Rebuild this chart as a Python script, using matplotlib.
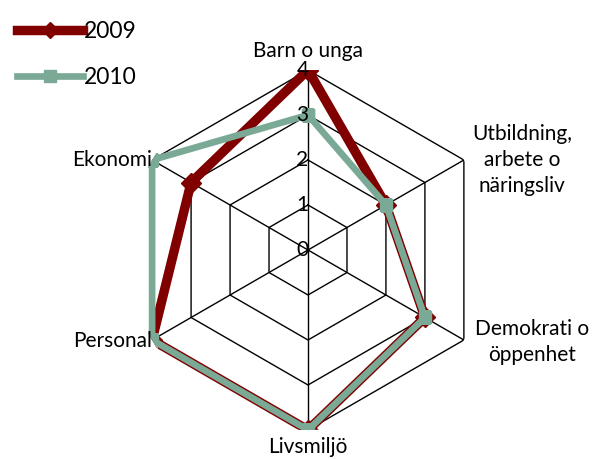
import numpy as np
import matplotlib.pyplot as plt
from matplotlib.lines import Line2D

plt.rcParams['font.family'] = ['Lato', 'DejaVu Sans']

categories = ['Barn o unga', 'Utbildning,\narbete o\nnäringsliv', 'Demokrati o\nöppenhet',
              'Livsmiljö', 'Personal', 'Ekonomi']
v2009 = [4, 2, 3, 4, 4, 3]
v2010 = [3, 2, 3, 4, 4, 4]
rings = [1, 2, 3, 4]
tick_labels = ['0', '1', '2', '3', '4']

red = '#800000'
green = '#7aa996'

W, H = 597, 459
fig = plt.figure(figsize=(W / 100, H / 100), dpi=100)
cx, cy, R = 308, 250, 180
ax = fig.add_axes([(cx - R) / W, (H - cy - R) / H, 2 * R / W, 2 * R / H], projection='polar')
ax.set_theta_offset(np.pi / 2)
ax.set_theta_direction(-1)
ax.set_ylim(0, 4)
ax.axis('off')

n = len(categories)
ang = np.linspace(0, 2 * np.pi, n, endpoint=False)
ang_c = np.append(ang, ang[0])

# hexagon grid
for r in rings:
    ax.plot(ang_c, [r] * (n + 1), color='black', lw=1.0, zorder=1)
for a in ang:
    ax.plot([a, a], [0, 4], color='black', lw=1.0, zorder=1)

# series
ax.plot(ang_c, v2009 + v2009[:1], color=red, lw=6.8, marker='D', ms=10,
        solid_joinstyle='miter', zorder=3)
ax.plot(ang_c, v2010 + v2010[:1], color=green, lw=4.8, marker='s', ms=9,
        solid_joinstyle='miter', zorder=4)

# tick labels along the top spoke
for i, t in enumerate(tick_labels):
    ax.annotate(t, xy=(0, i), xytext=(-4, 0), textcoords='offset points',
                ha='center', va='center', fontsize=15, zorder=5)

# category labels
label_pos = [(308, 51, 'center'), (522, 160, 'center'), (532, 342, 'center'),
             (308, 447, 'center'), (152, 341, 'right'), (152, 160, 'right')]
for lab, (x, y, ha) in zip(categories, label_pos):
    fig.text(x / W, 1 - y / H, lab, ha=ha, va='center', fontsize=15,
             linespacing=1.38)

handles = [Line2D([], [], color=red, lw=6.8, marker='D', ms=8),
           Line2D([], [], color=green, lw=4.8, marker='s', ms=9)]
fig.legend(handles, ['2009', '2010'], loc='upper left',
           bbox_to_anchor=(0.008, 1 - 8 / H),
           frameon=False, fontsize=16.5, handlelength=2.85, labelspacing=1.1,
           handletextpad=0.05, borderaxespad=0.15, borderpad=0.4)

plt.savefig('out.png', dpi=100)
